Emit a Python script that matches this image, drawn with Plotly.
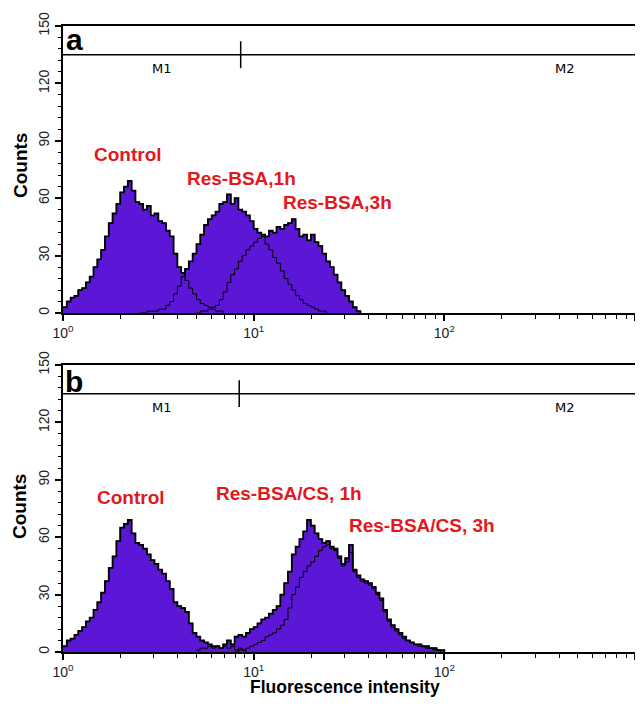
import numpy as np
import plotly.graph_objects as go

# ---------------- data (histogram counts, log10 channel bins of 0.02 decades) ----------------
bin_step = 0.02

a_control_start = 0.00
a_control = [3, 6, 8, 9, 12, 13, 16, 19, 24, 28, 33, 40, 47, 52, 57, 63, 66, 69, 64, 58,
             57, 54, 56, 51, 52, 48, 47, 43, 40, 31, 24, 21, 17, 13, 10, 7, 5, 4, 3, 2, 1, 1, 0]

a_1h_start = 0.40
a_1h = [0, 0, 1, 1, 1, 2, 2, 4, 6, 10, 14, 19, 23, 27, 31, 36, 41, 46, 49, 51,
        53, 57, 58, 62, 57, 60, 54, 53, 51, 48, 44, 42, 40, 36, 33, 29, 26, 22, 18, 15,
        12, 9, 7, 5, 4, 3, 2, 1, 1, 0]

a_3h_start = 0.70
a_3h = [0, 1, 1, 2, 3, 4, 7, 11, 16, 20, 23, 27, 30, 33, 35, 37, 39, 41, 40, 43,
        42, 45, 44, 46, 47, 49, 44, 40, 41, 38, 41, 37, 35, 31, 27, 24, 20, 16, 12, 9,
        6, 3, 1, 0]

b_control_start = 0.00
b_control = [3, 6, 7, 9, 11, 13, 16, 18, 22, 26, 31, 37, 44, 50, 58, 65, 67, 69, 62, 57,
             56, 54, 51, 48, 46, 43, 41, 37, 33, 26, 24, 23, 21, 15, 10, 8, 6, 5, 4, 3,
             3, 2, 3, 2, 3, 1, 2, 1, 0]

b_1h_start = 0.70
b_1h = [1, 2, 2, 3, 2, 3, 2, 4, 6, 4, 8, 9, 8, 10, 12, 13, 15, 17, 18, 20,
        22, 24, 30, 36, 42, 51, 55, 59, 63, 69, 66, 62, 59, 57, 58, 55, 54, 50, 45, 49,
        56, 43, 40, 38, 37, 36, 34, 31, 28, 22, 17, 14, 12, 10, 8, 6, 5, 4, 4, 3,
        3, 2, 2, 1, 1, 0]

b_3h_start = 0.90
b_3h = [0, 1, 1, 2, 3, 4, 5, 6, 8, 9, 10, 12, 14, 17, 23, 30, 34, 39, 42, 45,
        47, 50, 53, 55, 56, 54, 53, 49, 46, 47, 52, 42, 39, 37, 36, 35, 33, 30, 27, 21,
        16, 13, 11, 9, 7, 6, 5, 4, 3, 3, 2, 2, 1, 1, 0]

panel_a_labels = ["Control", "Res-BSA,1h", "Res-BSA,3h"]
panel_b_labels = ["Control", "Res-BSA/CS, 1h", "Res-BSA/CS, 3h"]
panel_letters = ["a", "b"]
marker_names = ["M1", "M2"]
marker_level = 135
gate_x = [8.55, 8.4]

x_tickvals = [1, 10, 100, 1000]
x_ticktext = ["10<sup>0</sup>", "10<sup>1</sup>", "10<sup>2</sup>", "10<sup>3</sup>"]
x_minor = [m * d for d in (1, 10, 100) for m in range(2, 10)]
y_tickvals = [0, 30, 60, 90, 120, 150]

PURPLE = "rgb(91,22,214)"
RED = "#e3171c"


def xs(start, vals):
    return 10 ** (start + bin_step * np.arange(len(vals)))


def envelope(series):
    n = max(int(round(st / bin_step)) + len(v) for st, v in series)
    env = np.zeros(n)
    for st, v in series:
        o = int(round(st / bin_step))
        env[o:o + len(v)] = np.maximum(env[o:o + len(v)], v)
    return xs(0.0, env), env


panels = [
    ("x", "y", [(a_control_start, a_control), (a_1h_start, a_1h), (a_3h_start, a_3h)]),
    ("x2", "y2", [(b_control_start, b_control), (b_1h_start, b_1h), (b_3h_start, b_3h)]),
]

fig = go.Figure()
for xa, ya, series in panels:
    for st, v in series:
        fig.add_trace(go.Scatter(x=xs(st, v), y=v, mode="lines", line_shape="hv",
                                 fill="tozeroy", fillcolor=PURPLE, line=dict(width=0, color=PURPLE),
                                 xaxis=xa, yaxis=ya, hoverinfo="skip", showlegend=False))
    for st, v in series:
        fig.add_trace(go.Scatter(x=xs(st, v), y=v, mode="lines", line_shape="hv",
                                 line=dict(width=1, color="black"),
                                 xaxis=xa, yaxis=ya, hoverinfo="skip", showlegend=False))
    ex, ey = envelope(series)
    fig.add_trace(go.Scatter(x=ex, y=ey, mode="lines", line_shape="hv",
                             line=dict(width=1.8, color="black"),
                             xaxis=xa, yaxis=ya, hoverinfo="skip", showlegend=False))

# page geometry (the page body adds an 8px offset around the figure)
OFF = 8
PAGE_W, PAGE_H = 643, 706
W, H = PAGE_W - 2 * OFF, PAGE_H - 2 * OFF          # 627 x 690
PLOT_L, PLOT_R, PLOT_T, PLOT_B = 63, 635, 26, 652     # plot area in page pixels
L = PLOT_L - OFF
T = PLOT_T - OFF
R = W - (PLOT_R - OFF)
B = H - (PLOT_B - OFF)
pw, ph = PLOT_R - PLOT_L, PLOT_B - PLOT_T


def px(xp):
    return (xp - PLOT_L) / pw


def py(yp):
    return (PLOT_B - yp) / ph


axis_common = dict(showline=True, linewidth=2, linecolor="black", mirror=True, automargin=False,
                   showgrid=False, zeroline=False, ticks="outside", tickcolor="black")

xaxis = dict(type="log", range=[0, 3], tickvals=x_tickvals, ticktext=x_ticktext, ticklen=6,
             tickwidth=1.5, tickfont=dict(family="Liberation Sans", size=14, color="#222"),
             minor=dict(tickvals=x_minor, ticks="outside", ticklen=4, tickcolor="black", tickwidth=1),
             **axis_common)
yaxis = dict(range=[0, 150], tickvals=y_tickvals, ticklen=6, tickwidth=1.5, tickangle=-90,
             tickfont=dict(family="Liberation Sans", size=14, color="#222"),
             minor=dict(dtick=6, ticks="outside", ticklen=3, tickcolor="black", tickwidth=1),
             **axis_common)

fig.update_layout(
    width=W, height=H, margin=dict(l=L, r=R, t=T, b=B, autoexpand=False),
    paper_bgcolor="white", plot_bgcolor="white",
    xaxis=dict(domain=[0, 1], anchor="y", **xaxis),
    yaxis=dict(domain=[py(313), 1], anchor="x", **yaxis),
    xaxis2=dict(domain=[0, 1], anchor="y2", **xaxis),
    yaxis2=dict(domain=[0, py(365)], anchor="x2", **yaxis),
)

shapes = []
annotations = []
for i, (xa, ya) in enumerate([("x", "y"), ("x2", "y2")]):
    shapes.append(dict(type="line", xref=xa, yref=ya, x0=1, x1=1000, y0=marker_level, y1=marker_level,
                       line=dict(color="black", width=1.5)))
    shapes.append(dict(type="line", xref=xa, yref=ya, x0=gate_x[i], x1=gate_x[i], y0=128, y1=142,
                       line=dict(color="black", width=1.5)))
    annotations.append(dict(xref=xa, yref=ya, x=np.log10(3.3), y=128, text=marker_names[0], showarrow=False,
                            font=dict(family="DejaVu Sans", size=13, color="black")))
    annotations.append(dict(xref=xa, yref=ya, x=np.log10(430), y=128, text=marker_names[1], showarrow=False,
                            font=dict(family="DejaVu Sans", size=13, color="black")))

# panel letters
for letter, (xp, yp) in zip(panel_letters, [(74, 40), (74, 381)]):
    annotations.append(dict(xref="paper", yref="paper", x=px(xp), y=py(yp), text="<b>%s</b>" % letter,
                            showarrow=False, xanchor="center", yanchor="middle",
                            font=dict(family="Liberation Sans", size=30, color="black")))

# red curve labels
label_pos_a = [(128, 155), (241, 178), (337, 202)]
label_pos_b = [(131, 497), (289, 493), (422, 525)]
for lbls, poss in [(panel_a_labels, label_pos_a), (panel_b_labels, label_pos_b)]:
    for t, (xp, yp) in zip(lbls, poss):
        annotations.append(dict(xref="paper", yref="paper", x=px(xp), y=py(yp), text="<b>%s</b>" % t,
                                showarrow=False, xanchor="center", yanchor="middle",
                                font=dict(family="Liberation Sans", size=19, color=RED)))

# axis titles
for yp in (166, 507):
    annotations.append(dict(xref="paper", yref="paper", x=px(20), y=py(yp), text="<b>Counts</b>",
                            textangle=-90, showarrow=False, xanchor="center", yanchor="middle",
                            font=dict(family="Liberation Sans", size=19, color="black")))
annotations.append(dict(xref="paper", yref="paper", x=px(345), y=py(686.5), text="<b>Fluorescence intensity</b>",
                        showarrow=False, xanchor="center", yanchor="middle", borderpad=0,
                        font=dict(family="Liberation Sans", size=17.5, color="black")))

fig.update_layout(shapes=shapes, annotations=annotations)
fig.write_html("out.html")
